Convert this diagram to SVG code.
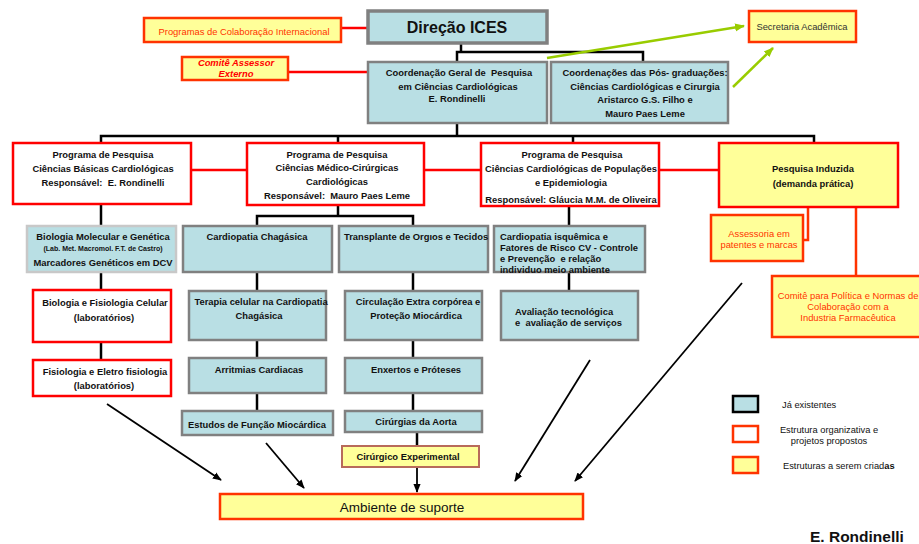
<svg xmlns="http://www.w3.org/2000/svg" width="919" height="544" viewBox="0 0 919 544">
<style>
.blue{fill:#b9dfe4;stroke:#808080;stroke-width:2.5}
.lblue{fill:#b9dfe4;stroke:#c8c8c8;stroke-width:2.5}
.red{fill:#ffffff;stroke:#ff0000;stroke-width:2.5}
.yel{fill:#ffff99;stroke:#ff3300;stroke-width:2.5}
.yelr{fill:#ffff99;stroke:#ff0000;stroke-width:2.5}
.t{font-family:"Liberation Sans",Arial,sans-serif;font-size:9.4px;font-weight:bold;fill:#111;white-space:pre}
.m{text-anchor:middle}
.o{font-family:"Liberation Sans",Arial,sans-serif;font-size:9.4px;fill:#ff3300;text-anchor:middle}
.n{font-family:"Liberation Sans",Arial,sans-serif;font-size:9.3px;fill:#111}
.blk{stroke:#000;stroke-width:2.5;fill:none}
.rl{stroke:#ff0000;stroke-width:2.5;fill:none}
.ol{stroke:#ff3300;stroke-width:2.5;fill:none}
.gl{stroke:#99cc00;stroke-width:2.5;fill:none}
.ar{stroke:#000;stroke-width:1.8;fill:none}
</style>
<defs>
<marker id="ah" viewBox="0 0 10 10" refX="9" refY="5" markerWidth="5" markerHeight="5" orient="auto" markerUnits="strokeWidth"><path d="M0,1 L10,5 L0,9 z" fill="#000"/></marker>
<marker id="gh" viewBox="0 0 10 10" refX="9" refY="5" markerWidth="4" markerHeight="4" orient="auto" markerUnits="strokeWidth"><path d="M0,1 L10,5 L0,9 z" fill="#99cc00"/></marker>
</defs>
<g id="connectors">
<polyline class="blk" points="461,43 461,52"/>
<polyline class="blk" points="457,62 457,52 643,52 643,62"/>
<polyline class="rl" points="341,28 368,28"/>
<polyline class="rl" points="288,72 368,72"/>
<line class="gl" x1="547" y1="58" x2="744" y2="26" marker-end="url(#gh)"/>
<line class="gl" x1="733" y1="87" x2="773" y2="48" marker-end="url(#gh)"/>
<polyline class="blk" points="457,123 457,136"/>
<polyline class="blk" points="101,143 101,136 814,136 814,143"/>
<polyline class="blk" points="338,136 338,143"/>
<polyline class="blk" points="573,136 573,143"/>
<polyline class="rl" points="191,170 247,170"/>
<polyline class="rl" points="424,170 481,170"/>
<polyline class="rl" points="659,170 719,170"/>
<polyline class="blk" points="101,204 101,226"/>
<polyline class="blk" points="101,272 101,290"/>
<polyline class="blk" points="101,342 101,360"/>
<polyline class="blk" points="338,205 338,216"/>
<polyline class="blk" points="257,226 257,216 413,216 413,226"/>
<polyline class="blk" points="257,272 257,291"/>
<polyline class="blk" points="257,340 257,358"/>
<polyline class="blk" points="257,393 257,410"/>
<polyline class="blk" points="413,272 413,291"/>
<polyline class="blk" points="413,340 413,358"/>
<polyline class="blk" points="413,393 413,410"/>
<polyline class="blk" points="417,432 417,445"/>
<polyline class="blk" points="569,206 569,226"/>
<polyline class="blk" points="569,272 569,291"/>
<polyline class="ol" points="808,207 808,240 803,240"/>
<polyline class="ol" points="856,207 856,276"/>
<line class="ar" x1="417" y1="467" x2="417" y2="492" marker-end="url(#ah)"/>
<line class="ar" x1="107" y1="404" x2="221" y2="480" marker-end="url(#ah)"/>
<line class="ar" x1="266" y1="443" x2="304" y2="488" marker-end="url(#ah)"/>
<line class="ar" x1="590" y1="360" x2="515" y2="481" marker-end="url(#ah)"/>
<line class="ar" x1="742" y1="283" x2="575" y2="481" marker-end="url(#ah)"/>
</g>
<g id="direcao">
<rect x="368" y="11" width="179" height="32" fill="#b9dfe4" stroke="#808080" stroke-width="3.5"/>
<text x="457" y="33" class="t m" style="font-size:16px">Direção ICES</text>
</g>
<g id="programas-colab">
<rect class="yel" x="144" y="18" width="197" height="24"/>
<text x="244" y="34.5" class="o">Programas de Colaboração Internacional</text>
</g>
<g id="comite-assessor">
<rect class="yel" x="182" y="57" width="106" height="23"/>
<text x="236" y="65.5" class="t m" style="fill:#ff0000;font-style:italic">Comitê Assessor</text>
<text x="236" y="76.5" class="t m" style="fill:#ff0000;font-style:italic">Externo</text>
</g>
<g id="secretaria">
<rect class="yel" x="749" y="11" width="107" height="31"/>
<text x="802" y="29.5" class="n" style="text-anchor:middle;font-size:9.4px;fill:#333">Secretaria Acadêmica</text>
</g>
<g id="coord-geral">
<rect class="blue" x="368" y="62" width="179" height="61"/>
<text x="459" y="75.5" class="t m">Coordenação Geral de  Pesquisa</text>
<text x="458" y="89.5" class="t m">em Ciências Cardiológicas</text>
<text x="457" y="102" class="t m">E. Rondinelli</text>
</g>
<g id="coord-pos">
<rect class="blue" x="551" y="62" width="177" height="61"/>
<text x="645" y="75.5" class="t m">Coordenações das Pós- graduações:</text>
<text x="645" y="89.5" class="t m">Ciências Cardiológicas e Cirurgia</text>
<text x="645" y="103" class="t m">Aristarco G.S. Filho e</text>
<text x="645" y="116.5" class="t m">Mauro Paes Leme</text>
</g>
<g id="prog-basicas">
<rect class="red" x="13" y="143" width="178" height="61"/>
<text x="103" y="158" class="t m">Programa de Pesquisa</text>
<text x="103" y="171.5" class="t m">Ciências Básicas Cardiológicas</text>
<text x="103" y="185.5" class="t m">Responsável:  E. Rondinelli</text>
</g>
<g id="prog-medico">
<rect class="red" x="247" y="143" width="177" height="62"/>
<text x="337" y="158" class="t m">Programa de Pesquisa</text>
<text x="337" y="171" class="t m">Ciências Médico-Cirúrgicas</text>
<text x="337" y="184.5" class="t m">Cardiológicas</text>
<text x="337" y="198.5" class="t m">Responsável:  Mauro Paes Leme</text>
</g>
<g id="prog-populacoes">
<rect class="red" x="481" y="143" width="178" height="63"/>
<text x="572" y="157.5" class="t m">Programa de Pesquisa</text>
<text x="571" y="171.5" class="t m">Ciências Cardiológicas de Populações</text>
<text x="571" y="185.5" class="t m">e Epidemiologia</text>
<text x="571" y="203" class="t m">Responsável: Gláucia M.M. de Oliveira</text>
</g>
<g id="pesquisa-induzida">
<rect class="yelr" x="719" y="143" width="179" height="64"/>
<text x="813" y="171.5" class="t m">Pesquisa Induzida</text>
<text x="813" y="186.5" class="t m">(demanda prática)</text>
</g>
<g id="assessoria">
<rect class="yel" x="711" y="215" width="92" height="46"/>
<text x="759" y="236.5" class="o">Assessoria em</text>
<text x="759" y="247.5" class="o">patentes e marcas</text>
</g>
<g id="comite-politica">
<rect class="yel" x="772" y="276" width="152" height="61"/>
<text x="848" y="299" class="o">Comitê para Política e Normas de</text>
<text x="848" y="310" class="o">Colaboração com a</text>
<text x="848" y="320.5" class="o">Industria Farmacêutica</text>
</g>
<g id="bio-molecular">
<rect class="lblue" x="27" y="226" width="149" height="46"/>
<text x="103" y="239.5" class="t m">Biologia Molecular e Genética</text>
<text x="103" y="250.5" class="t m" style="font-size:7px">(Lab. Met. Macromol. F.T. de Castro)</text>
<text x="103" y="265.5" class="t m">Marcadores Genéticos em DCV</text>
</g>
<g id="bio-celular">
<rect class="red" x="33" y="290" width="138" height="52"/>
<text x="105" y="305.5" class="t m">Biologia e Fisiologia Celular</text>
<text x="104" y="320.5" class="t m">(laboratórios)</text>
</g>
<g id="eletro">
<rect class="red" x="33" y="360" width="138" height="36"/>
<text x="105" y="374.5" class="t m">Fisiologia e Eletro fisiologia</text>
<text x="104" y="388.5" class="t m">(laboratórios)</text>
</g>
<g id="chagasica">
<rect class="blue" x="183" y="226" width="149" height="46"/>
<text x="257" y="239.5" class="t m">Cardiopatia Chagásica</text>
</g>
<g id="terapia">
<rect class="blue" x="189" y="291" width="137" height="49"/>
<text x="261" y="304.5" class="t m">Terapia celular na Cardiopatia</text>
<text x="259" y="318.5" class="t m">Chagásica</text>
</g>
<g id="arritmias">
<rect class="blue" x="189" y="358" width="137" height="35"/>
<text x="259" y="372.5" class="t m">Arritmias Cardiacas</text>
</g>
<g id="estudos">
<rect class="blue" x="182" y="411" width="151" height="24"/>
<text x="257" y="427.5" class="t m">Estudos de Função Miocárdica</text>
</g>
<g id="transplante">
<rect class="blue" x="339" y="226" width="149" height="46"/>
<text x="344" y="239.5" class="t">Transplante de Orgıos e Tecidos</text>
</g>
<g id="circulacao">
<rect class="blue" x="345" y="291" width="137" height="49"/>
<text x="418" y="304.5" class="t m">Circulação Extra corpórea e</text>
<text x="416" y="318.5" class="t m">Proteção Miocárdica</text>
</g>
<g id="enxertos">
<rect class="blue" x="345" y="358" width="137" height="35"/>
<text x="416" y="372.5" class="t m">Enxertos e Próteses</text>
</g>
<g id="aorta">
<rect class="blue" x="345" y="411" width="137" height="21"/>
<text x="416" y="425" class="t m">Cirúrgias da Aorta</text>
</g>
<g id="experimental">
<rect x="342" y="446" width="137" height="21" fill="#ffff99" stroke="#b86a5a" stroke-width="2"/>
<text x="408" y="459.5" class="t m">Cirúrgico Experimental</text>
</g>
<g id="isquemica">
<rect class="blue" x="494" y="226" width="151" height="46"/>
<text x="500" y="239.5" class="t">Cardiopatia isquêmica e</text>
<text x="500" y="250.5" class="t">Fatores de Risco CV - Controle</text>
<text x="500" y="261.5" class="t">e Prevenção  e relação</text>
<text x="500" y="272.5" class="t">individuo meio ambiente</text>
</g>
<g id="avaliacao">
<rect class="blue" x="501" y="291" width="137" height="49"/>
<text x="515" y="315" class="t">Avaliação tecnológica</text>
<text x="515" y="326" class="t">e  avaliação de serviços</text>
</g>
<g id="ambiente">
<rect class="yel" x="220" y="494" width="363" height="25"/>
<text x="402" y="512" class="n" style="font-size:13.5px;text-anchor:middle">Ambiente de suporte</text>
</g>
<g id="legend">
<rect x="733" y="396" width="25" height="16" fill="#b9dfe4" stroke="#000" stroke-width="2.5"/>
<text x="782" y="408" class="n">Já existentes</text>
<rect x="733" y="426" width="25" height="16" fill="#fff" stroke="#ff3300" stroke-width="2.5"/>
<text x="829" y="433" class="n" style="text-anchor:middle">Estrutura organizativa e</text>
<text x="829" y="444" class="n" style="text-anchor:middle">projetos propostos</text>
<rect x="733" y="457" width="25" height="16" fill="#ffff99" stroke="#ff3300" stroke-width="2.5"/>
<text x="783" y="469" class="n">Estruturas a serem criad<tspan font-weight="bold">as</tspan></text>
</g>
<text x="810" y="542" class="t" style="font-size:15.5px">E. Rondinelli</text>
</svg>
